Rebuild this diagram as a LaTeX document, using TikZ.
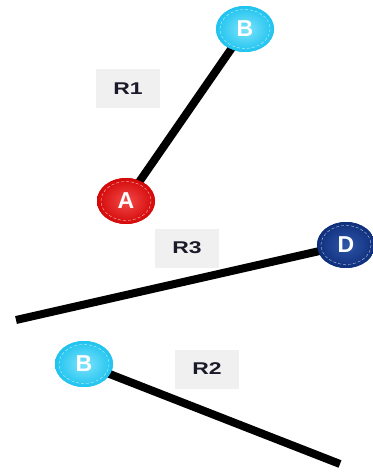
\documentclass[tikz,border=0pt]{standalone}
\usepackage{fontspec}
\setmainfont{Liberation Sans}
\usetikzlibrary{shapes.geometric}
\definecolor{cyanB}{HTML}{1EC3EF}
\definecolor{cyanL}{HTML}{7FE3FB}
\definecolor{redA}{HTML}{D40808}
\definecolor{redL}{HTML}{F24A4A}
\definecolor{navyD}{HTML}{0F2F7C}
\definecolor{navyL}{HTML}{2F56A8}
\definecolor{lblbg}{HTML}{F0F0F0}
\definecolor{lbltxt}{HTML}{1A1A2A}
\tikzset{
  vtx/.style={ellipse, minimum width=58pt, minimum height=46pt, inner sep=0pt,
    text=white, font=\fontsize{23}{23}\selectfont\bfseries},
  vB/.style={vtx, inner color=cyanL, outer color=cyanB},
  vA/.style={vtx, inner color=redL, outer color=redA},
  vD/.style={vtx, inner color=navyL, outer color=navyD},
  edge/.style={line width=8pt, black},
  lbl/.style={fill=lblbg, minimum width=64pt, minimum height=39pt, inner sep=0pt,
    text=lbltxt, font=\fontsize{17}{17}\selectfont\bfseries},
  ring/.style={white, densely dashed, line width=0.4pt, opacity=0.7}
}
\newcommand{\wlbl}[1]{\scalebox{1.35}[1]{#1}}
\begin{document}
\begin{tikzpicture}[x=1pt,y=-1pt]
\useasboundingbox (0,0) rectangle (372,476);
% labels
\node[lbl] (r1) at (128,89) {\wlbl{R1}};
\node[lbl] (r3) at (187,248) {\wlbl{R3}};
\node[lbl] (r2) at (207,369) {\wlbl{R2}};
% coordinates / nodes
\coordinate (e3) at (16,320);
\coordinate (e2) at (340,464);
\path (245,29) node[vB] (b1) {}
      (126,201) node[vA] (a) {}
      (346,245) node[vD] (d) {}
      (84,364) node[vB] (b2) {};
% edges
\draw[edge] (a.center) -- (b1.center);
\draw[edge] (e3) -- (d.center);
\draw[edge] (b2.center) -- (e2);
% vertices on top
\node[vB] at (b1) {B};
\node[vA] at (a) {A};
\node[vD] at (d) {D};
\node[vB] at (b2) {B};
\foreach \n in {b1,a,d,b2} \draw[ring] (\n.center) ellipse (25 and 19.5);
\end{tikzpicture}
\end{document}
